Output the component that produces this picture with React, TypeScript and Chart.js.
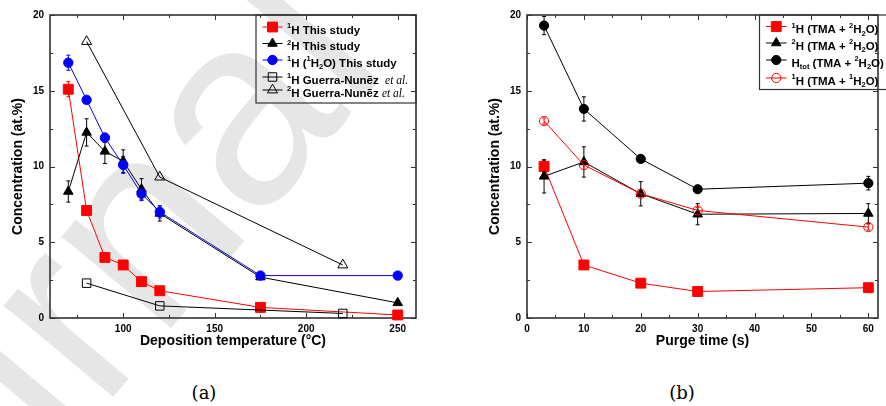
import React, { useEffect, useRef } from "react";
import { Chart, registerables } from "chart.js";

Chart.register(...registerables);

// ---------- Panel (a): deposition temperature ----------
const tempStudy = [70, 80, 90, 100, 110, 120, 175, 250];
const h1Study = [15.1, 7.1, 4.0, 3.5, 2.4, 1.8, 0.7, 0.2];
const h1StudyErr = [0.5, 0.3, 0.15, 0.15, 0.15, 0.15, 0.1, 0.1];
const h2Study = [8.35, 12.25, 11.0, 10.35, 8.5, 6.9, 2.7, 1.0];
const h2StudyErr = [0.7, 0.9, 0.8, 0.75, 0.7, 0.5, 0.15, 0.1];
const h1H2OStudy = [16.85, 14.4, 11.9, 10.1, 8.2, 7.0, 2.8, 2.8];
const h1H2OStudyErr = [0.5, 0.2, 0.3, 0.55, 0.45, 0.4, 0.1, 0.05];
const tempGuerra = [80, 120, 220];
const h1Guerra = [2.3, 0.8, 0.3];
const h2Guerra = [18.25, 9.3, 3.5];
const xTicksA = [100, 150, 200, 250];
const xMinorA = [75, 125, 175, 225];

// ---------- Panel (b): purge time ----------
const purgeTime = [3, 10, 20, 30, 60];
const h1TMA2 = [10.0, 3.5, 2.3, 1.75, 2.0];
const h1TMA2Err = [0.4, 0.1, 0.1, 0.1, 0.1];
const h2TMA2 = [9.35, 10.3, 8.2, 6.85, 6.9];
const h2TMA2Err = [1.1, 1.0, 0.8, 0.7, 0.65];
const hTotTMA2 = [19.3, 13.8, 10.5, 8.5, 8.9];
const hTotTMA2Err = [0.6, 0.8, 0.2, 0.2, 0.45];
const h1TMA1 = [13.0, 10.1, 8.2, 7.1, 6.0];
const h1TMA1Err = [0.2, 0.3, 0.2, 0.2, 0.2];
const xTicksB = [0, 10, 20, 30, 40, 50, 60];
const xMinorB = [5, 15, 25, 35, 45, 55];

const yTicks = [0, 5, 10, 15, 20];
const yMinor = [2.5, 7.5, 12.5, 17.5];

const SANS = "'Liberation Sans', Arial, Helvetica, sans-serif";
const SERIF = "'Liberation Serif', 'Times New Roman', serif";
const RED = "#ff0000";
const BLUE = "#0000ff";
const BLACK = "#000000";
const FRAME = "#333333";
const NONE = "rgba(0,0,0,0)";

type Seg = { t: string; k?: "sup" | "sub" | "it" };
type LegendItem = {
  segs: Seg[];
  color: string;
  style: string;
  filled: boolean;
  r: number;
  y: number;
};
type LegendSpec = {
  box: [number, number, number, number];
  lineX: [number, number];
  textX: number;
  items: LegendItem[];
};

function pts(xs: number[], ys: number[]) {
  return xs.map((x, i) => ({ x, y: ys[i] }));
}

function drawMarker(
  ctx: CanvasRenderingContext2D,
  style: string,
  x: number,
  y: number,
  r: number,
  color: string,
  filled: boolean
) {
  ctx.save();
  ctx.beginPath();
  if (style === "rect") {
    const s = Math.SQRT1_2 * r;
    ctx.rect(x - s, y - s, 2 * s, 2 * s);
  } else if (style === "triangle") {
    let a = 0;
    ctx.moveTo(x + Math.sin(a) * r, y - Math.cos(a) * r);
    a += (2 * Math.PI) / 3;
    ctx.lineTo(x + Math.sin(a) * r, y - Math.cos(a) * r);
    a += (2 * Math.PI) / 3;
    ctx.lineTo(x + Math.sin(a) * r, y - Math.cos(a) * r);
    ctx.closePath();
  } else {
    ctx.arc(x, y, r, 0, Math.PI * 2);
  }
  if (filled) {
    ctx.fillStyle = color;
    ctx.fill();
  }
  ctx.lineWidth = 1;
  ctx.strokeStyle = color;
  ctx.stroke();
  ctx.restore();
}

function makeLegendPlugin(spec: LegendSpec) {
  return {
    id: "boxLegend",
    afterDatasetsDraw(chart: any) {
      const ctx: CanvasRenderingContext2D = chart.ctx;
      ctx.save();
      const [bx, by, bw, bh] = spec.box;
      ctx.strokeStyle = FRAME;
      ctx.lineWidth = 1.2;
      ctx.strokeRect(bx, by, bw, bh);
      spec.items.forEach((it) => {
        ctx.strokeStyle = it.color;
        ctx.lineWidth = 1;
        ctx.beginPath();
        ctx.moveTo(spec.lineX[0], it.y);
        ctx.lineTo(spec.lineX[1], it.y);
        ctx.stroke();
        drawMarker(ctx, it.style, (spec.lineX[0] + spec.lineX[1]) / 2, it.y, it.r, it.color, it.filled);
        let x = spec.textX;
        const base = it.y + 6.6;
        ctx.fillStyle = "#000";
        ctx.textAlign = "left";
        ctx.textBaseline = "alphabetic";
        it.segs.forEach((s) => {
          let font = `bold 11.5px ${SANS}`;
          let yy = base;
          if (s.k === "sup") {
            font = `bold 7.5px ${SANS}`;
            yy = base - 5.5;
          } else if (s.k === "sub") {
            font = `bold 7.5px ${SANS}`;
            yy = base + 2.5;
          } else if (s.k === "it") {
            font = `italic 11.5px ${SERIF}`;
          }
          ctx.font = font;
          ctx.fillText(s.t, x, yy);
          x += ctx.measureText(s.t).width;
        });
      });
      ctx.restore();
    },
  };
}

const frameTicksPlugin = {
  id: "frameTicks",
  beforeDatasetsDraw(chart: any) {
    const { ctx, chartArea: a, scales } = chart;
    const xs = scales.x;
    const ys = scales.y;
    const o = chart.options.plugins.frameTicks || {};
    ctx.save();
    ctx.strokeStyle = FRAME;
    ctx.lineWidth = 1;
    const tick = (vals: number[], len: number, axis: "x" | "y") => {
      vals.forEach((v) => {
        ctx.beginPath();
        if (axis === "x") {
          const p = Math.round(xs.getPixelForValue(v)) + 0.5;
          ctx.moveTo(p, a.bottom);
          ctx.lineTo(p, a.bottom - len);
          ctx.moveTo(p, a.top);
          ctx.lineTo(p, a.top + len);
        } else {
          const p = Math.round(ys.getPixelForValue(v)) + 0.5;
          ctx.moveTo(a.left, p);
          ctx.lineTo(a.left + len, p);
          ctx.moveTo(a.right, p);
          ctx.lineTo(a.right - len, p);
        }
        ctx.stroke();
      });
    };
    tick(o.xMajor || [], 5, "x");
    tick(o.xMinor || [], 3, "x");
    tick(o.yMajor || [], 5, "y");
    tick(o.yMinor || [], 3, "y");
    ctx.lineWidth = 1.6;
    ctx.strokeRect(a.left, a.top, a.right - a.left, a.bottom - a.top);
    ctx.restore();
  },
};

const errorBarPlugin = {
  id: "errorBars",
  beforeDatasetsDraw(chart: any) {
    const { ctx, scales } = chart;
    const xs = scales.x;
    const ys = scales.y;
    ctx.save();
    chart.data.datasets.forEach((ds: any) => {
      const errs: number[] | undefined = ds.errors;
      if (!errs) return;
      ctx.strokeStyle = ds.errColor || ds.borderColor;
      ctx.lineWidth = 1;
      ds.data.forEach((p: any, j: number) => {
        const e = errs[j];
        if (!e) return;
        const px = xs.getPixelForValue(p.x);
        const y1 = ys.getPixelForValue(p.y + e);
        const y2 = ys.getPixelForValue(p.y - e);
        ctx.beginPath();
        ctx.moveTo(px, y1);
        ctx.lineTo(px, y2);
        ctx.moveTo(px - 2, y1);
        ctx.lineTo(px + 2, y1);
        ctx.moveTo(px - 2, y2);
        ctx.lineTo(px + 2, y2);
        ctx.stroke();
      });
    });
    ctx.restore();
  },
};

function series(
  label: string,
  xs: number[],
  ys: number[],
  errs: number[] | null,
  color: string,
  style: string,
  r: number,
  filled: boolean,
  order: number
) {
  return {
    label,
    data: pts(xs, ys),
    errors: errs || undefined,
    borderColor: color,
    backgroundColor: color,
    borderWidth: 1,
    pointStyle: style,
    pointRadius: r,
    pointBorderWidth: 1,
    pointBorderColor: color,
    pointBackgroundColor: filled ? color : NONE,
    showLine: true,
    tension: 0,
    order,
    clip: false,
  };
}

function baseOptions(
  xMin: number,
  xMax: number,
  xMajor: number[],
  xMinor: number[],
  xTitle: string,
  yWidth: number,
  yTitlePad: number,
  padRight: number
) {
  const tickFont = { family: SANS, size: 10, weight: "bold" as const };
  const titleFont = { family: SANS, size: 14, weight: "bold" as const };
  return {
    responsive: false,
    animation: false as const,
    devicePixelRatio: 1,
    events: [],
    layout: { padding: { top: 15, right: padRight, left: 0, bottom: 0 } },
    plugins: {
      legend: { display: false },
      tooltip: { enabled: false },
      frameTicks: { xMajor, xMinor, yMajor: yTicks, yMinor },
    },
    scales: {
      x: {
        type: "linear" as const,
        min: xMin,
        max: xMax,
        grid: { display: false, drawTicks: false },
        border: { display: false },
        afterBuildTicks: (s: any) => {
          s.ticks = xMajor.map((v) => ({ value: v }));
        },
        afterFit: (s: any) => {
          s.height = 38;
        },
        ticks: { font: tickFont, color: "#000", padding: 5, autoSkip: false, maxRotation: 0 },
        title: {
          display: true,
          text: xTitle,
          font: titleFont,
          color: "#000",
          padding: { top: 0, bottom: 6 },
        },
      },
      y: {
        type: "linear" as const,
        min: 0,
        max: 20,
        grid: { display: false, drawTicks: false },
        border: { display: false },
        afterBuildTicks: (s: any) => {
          s.ticks = yTicks.map((v) => ({ value: v }));
        },
        afterFit: (s: any) => {
          s.width = yWidth;
        },
        ticks: { font: tickFont, color: "#000", padding: 6, autoSkip: false },
        title: {
          display: true,
          text: "Concentration (at.%)",
          font: titleFont,
          color: "#000",
          padding: { top: yTitlePad, bottom: 0 },
        },
      },
    },
  };
}

const legendA: LegendSpec = {
  box: [256, 15, 160, 88],
  lineX: [262.5, 282.5],
  textX: 287,
  items: [
    { segs: [{ t: "1", k: "sup" }, { t: "H This study" }], color: RED, style: "rect", filled: true, r: 7, y: 27 },
    { segs: [{ t: "2", k: "sup" }, { t: "H This study" }], color: BLACK, style: "triangle", filled: true, r: 5.5, y: 43.5 },
    {
      segs: [
        { t: "1", k: "sup" },
        { t: "H (" },
        { t: "1", k: "sup" },
        { t: "H" },
        { t: "2", k: "sub" },
        { t: "O) This study" },
      ],
      color: BLUE,
      style: "circle",
      filled: true,
      r: 4.7,
      y: 60,
    },
    {
      segs: [{ t: "1", k: "sup" }, { t: "H Guerra-Nunẽz  " }, { t: "et al.", k: "it" }],
      color: BLACK,
      style: "rect",
      filled: false,
      r: 6,
      y: 77,
    },
    {
      segs: [{ t: "2", k: "sup" }, { t: "H Guerra-Nunẽz " }, { t: "et al.", k: "it" }],
      color: BLACK,
      style: "triangle",
      filled: false,
      r: 5.8,
      y: 90,
    },
  ],
};

const legendB: LegendSpec = {
  box: [319.5, 15, 140, 74.5],
  lineX: [326, 346.5],
  textX: 351.5,
  items: [
    {
      segs: [{ t: "1", k: "sup" }, { t: "H (TMA + " }, { t: "2", k: "sup" }, { t: "H" }, { t: "2", k: "sub" }, { t: "O)" }],
      color: RED,
      style: "rect",
      filled: true,
      r: 7,
      y: 26.5,
    },
    {
      segs: [{ t: "2", k: "sup" }, { t: "H (TMA + " }, { t: "2", k: "sup" }, { t: "H" }, { t: "2", k: "sub" }, { t: "O)" }],
      color: BLACK,
      style: "triangle",
      filled: true,
      r: 5.5,
      y: 43,
    },
    {
      segs: [{ t: "H" }, { t: "tot", k: "sub" }, { t: " (TMA + " }, { t: "2", k: "sup" }, { t: "H" }, { t: "2", k: "sub" }, { t: "O)" }],
      color: BLACK,
      style: "circle",
      filled: true,
      r: 4.6,
      y: 60,
    },
    {
      segs: [{ t: "1", k: "sup" }, { t: "H (TMA + " }, { t: "1", k: "sup" }, { t: "H" }, { t: "2", k: "sub" }, { t: "O)" }],
      color: RED,
      style: "circle",
      filled: false,
      r: 4.6,
      y: 78,
    },
  ],
};

function ChartA() {
  const ref = useRef<HTMLCanvasElement | null>(null);
  useEffect(() => {
    if (!ref.current) return;
    const chart = new Chart(ref.current, {
      type: "line",
      data: {
        datasets: [
          series("1H This study", tempStudy, h1Study, h1StudyErr, RED, "rect", 7, true, 5),
          series("2H This study", tempStudy, h2Study, h2StudyErr, BLACK, "triangle", 5.5, true, 4),
          series("1H (1H2O) This study", tempStudy, h1H2OStudy, h1H2OStudyErr, BLUE, "circle", 4.7, true, 3),
          series("1H Guerra-Nunez et al.", tempGuerra, h1Guerra, null, BLACK, "rect", 6, false, 2),
          series("2H Guerra-Nunez et al.", tempGuerra, h2Guerra, null, BLACK, "triangle", 5.8, false, 1),
        ] as any,
      },
      options: baseOptions(60, 260, xTicksA, xMinorA, "Deposition temperature (°C)", 50, 9.6, 24) as any,
      plugins: [frameTicksPlugin, errorBarPlugin, makeLegendPlugin(legendA)],
    });
    return () => chart.destroy();
  }, []);
  return (
    <canvas
      ref={ref}
      width={440}
      height={356}
      style={{ position: "absolute", left: 0, top: 0, width: 440, height: 356 }}
    />
  );
}

function ChartB() {
  const ref = useRef<HTMLCanvasElement | null>(null);
  useEffect(() => {
    if (!ref.current) return;
    const chart = new Chart(ref.current, {
      type: "line",
      data: {
        datasets: [
          series("1H (TMA + 2H2O)", purgeTime, h1TMA2, h1TMA2Err, RED, "rect", 7, true, 4),
          series("2H (TMA + 2H2O)", purgeTime, h2TMA2, h2TMA2Err, BLACK, "triangle", 5.5, true, 3),
          series("Htot (TMA + 2H2O)", purgeTime, hTotTMA2, hTotTMA2Err, BLACK, "circle", 4.6, true, 2),
          series("1H (TMA + 1H2O)", purgeTime, h1TMA1, h1TMA1Err, RED, "circle", 4.6, false, 1),
        ] as any,
      },
      options: baseOptions(0, 61.7, xTicksB, xMinorB, "Purge time (s)", 87, 46.6, 1) as any,
      plugins: [frameTicksPlugin, errorBarPlugin, makeLegendPlugin(legendB)],
    });
    return () => chart.destroy();
  }, []);
  return (
    <canvas
      ref={ref}
      width={446}
      height={356}
      style={{ position: "absolute", left: 440, top: 0, width: 446, height: 356 }}
    />
  );
}

export default function App() {
  return (
    <div
      style={{
        position: "absolute",
        left: 0,
        top: 0,
        width: 886,
        height: 406,
        background: "#ffffff",
        overflow: "hidden",
      }}
    >
      <svg
        width={886}
        height={406}
        style={{ position: "absolute", left: 0, top: 0 }}
      >
        <text
          x={-178.6}
          y={744.8}
          transform="rotate(-50 -178.6 744.8)"
          fontFamily={SANS}
          fontSize={270}
          fill="#e6e6e6"
        >
          Journal Pre-proof
        </text>
      </svg>
      <ChartA />
      <ChartB />
      <div
        style={{
          position: "absolute",
          left: 164,
          width: 80,
          top: 381,
          textAlign: "center",
          fontFamily: "'DejaVu Serif', serif",
          fontSize: 18,
          lineHeight: "24px",
          color: "#000",
        }}
      >
        (a)
      </div>
      <div
        style={{
          position: "absolute",
          left: 642,
          width: 80,
          top: 381,
          textAlign: "center",
          fontFamily: "'DejaVu Serif', serif",
          fontSize: 18,
          lineHeight: "24px",
          color: "#000",
        }}
      >
        (b)
      </div>
    </div>
  );
}
